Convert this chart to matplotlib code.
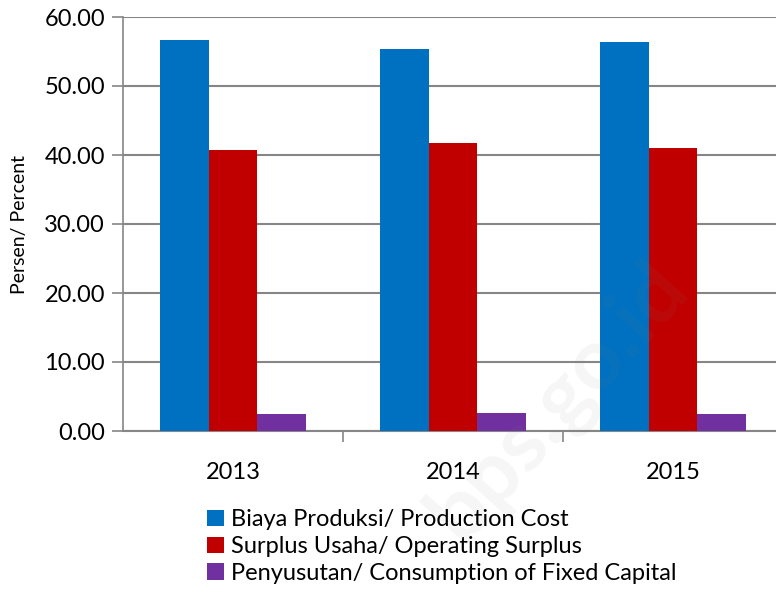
import matplotlib.pyplot as plt
import numpy as np

plt.rcParams['font.family'] = ['Lato', 'DejaVu Sans']

years = ['2013', '2014', '2015']
production_cost = [56.6, 55.4, 56.4]
operating_surplus = [40.7, 41.7, 41.0]
fixed_capital = [2.4, 2.65, 2.4]

series_labels = ['Biaya Produksi/ Production Cost',
                 'Surplus Usaha/ Operating Surplus',
                 'Penyusutan/ Consumption of Fixed Capital']
colors = ['#0070C0', '#C00000', '#7030A0']
yticks = [0, 10, 20, 30, 40, 50, 60]

fig = plt.figure(figsize=(7.76, 5.89), dpi=100)
ax = fig.add_axes([123 / 776, 158 / 589, 660 / 776, 414 / 589])

x = np.arange(len(years))
w = 1 / 4.5
handles = []
for i, (vals, lab, c) in enumerate(zip([production_cost, operating_surplus, fixed_capital],
                                        series_labels, colors)):
    b = ax.bar(x + (i - 1) * w, vals, width=w, color=c, label=lab, zorder=3)
    handles.append(b)

ax.set_xlim(-0.5, 2.5)
ax.set_ylim(0, 60)
ax.set_yticks(yticks)
ax.set_yticklabels([f'{v:.2f}' for v in yticks], fontsize=17)
ax.yaxis.grid(True, color='#868686', linewidth=1.5, zorder=0)
ax.set_axisbelow(True)

ax.set_xticks(x)
ax.set_xticklabels(years, fontsize=17)
ax.tick_params(axis='x', length=0, pad=22)
ax.set_xticks([0.5, 1.5], minor=True)
ax.tick_params(axis='x', which='minor', length=8, width=1.2, color='#868686')
ax.tick_params(axis='y', length=8, width=1.2, color='#868686', pad=5)

for s in ['top', 'right']:
    ax.spines[s].set_visible(False)
ax.spines['left'].set_color('#868686')
ax.spines['left'].set_linewidth(1.2)
ax.spines['bottom'].set_color('#868686')
ax.spines['bottom'].set_linewidth(1.5)

ax.set_ylabel('Persen/ Percent', fontsize=14, labelpad=12)

fig.legend(handles=handles, loc='upper left', bbox_to_anchor=(198 / 776, 1 - 500 / 589),
           frameon=False, fontsize=17, handlelength=0.7, handleheight=0.7,
           handletextpad=0.3, labelspacing=0.24, borderaxespad=0)

# faint watermark
fig.text(0.72, 0.32, 'bps.go.id', fontsize=62, fontweight='bold', color='#808080',
         alpha=0.07, rotation=48, ha='center', va='center')

fig.savefig('out.png', dpi=100)
